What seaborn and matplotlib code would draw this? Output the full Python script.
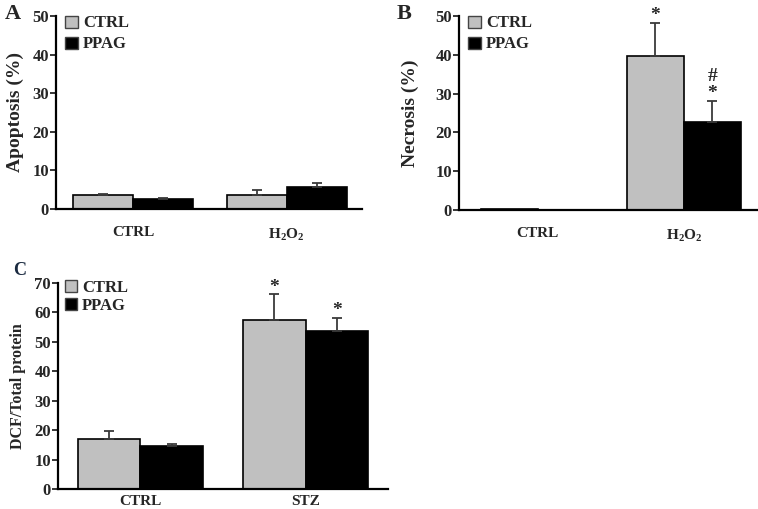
import matplotlib
matplotlib.use("Agg")
import matplotlib.pyplot as plt
import seaborn as sns
import pandas as pd
from matplotlib.patches import Patch
from matplotlib.container import BarContainer

sns.set_style("white")
plt.rcParams['font.family'] = ['Liberation Serif', 'DejaVu Serif']
plt.rcParams['font.weight'] = 'bold'
plt.rcParams['mathtext.fontset'] = 'custom'
plt.rcParams['mathtext.rm'] = 'Liberation Serif:bold'
plt.rcParams['mathtext.bf'] = 'Liberation Serif:bold'

groups = ["CTRL", "PPAG"]
colors = {"CTRL": "#c0c0c0", "PPAG": "#000000"}

# Panel A: Apoptosis
a_cats = ["CTRL", "H$_\\mathbf{2}$O$_\\mathbf{2}$"]
a_ctrl = [3.5, 3.5]
a_ppag = [2.6, 5.8]
a_ctrl_err = [0.5, 1.3]
a_ppag_err = [0.2, 1.0]

# Panel B: Necrosis
b_cats = ["CTRL", "H$_\\mathbf{2}$O$_\\mathbf{2}$"]
b_ctrl = [0.3, 39.6]
b_ppag = [0.0, 22.6]
b_ctrl_err = [0.0, 8.7]
b_ppag_err = [0.0, 5.6]
b_ctrl_marks = ["", "*"]
b_ppag_marks = ["", "#\n*"]

# Panel C: DCF/Total protein
c_cats = ["CTRL", "STZ"]
c_ctrl = [16.9, 57.5]
c_ppag = [14.5, 53.7]
c_ctrl_err = [2.7, 8.7]
c_ppag_err = [0.9, 4.4]
c_ctrl_marks = ["", "*"]
c_ppag_marks = ["", "*"]

fig = plt.figure(figsize=(7.58, 5.09), dpi=100)
axA = fig.add_axes([0.0739, 0.5894, 0.4037, 0.3792])
axB = fig.add_axes([0.6055, 0.5874, 0.3932, 0.3811])
axC = fig.add_axes([0.0765, 0.0393, 0.4354, 0.4047])


def panel(ax, cats, ctrl, ppag, ctrl_err, ppag_err, ymax, ystep, ylabel,
          xlim, width, marks=None, ylabel_size=14, legend_font=12,
          tick_size=12, xtick_size=11, xpad=9, mark_size=14,
          leg_anchor=(0.02, 1.02), leg_spacing=0.3, labelpad=6):
    df = pd.DataFrame({
        "cat": cats * 2,
        "grp": ["CTRL"] * len(cats) + ["PPAG"] * len(cats),
        "val": list(ctrl) + list(ppag),
    })
    sns.barplot(data=df, x="cat", y="val", hue="grp", order=cats,
                hue_order=groups, palette=colors, width=width,
                edgecolor="black", linewidth=1.2, errorbar=None,
                ax=ax, legend=False, saturation=1)
    errs = [ctrl_err, ppag_err]
    bar_conts = [c for c in ax.containers if isinstance(c, BarContainer)]
    for ci, cont in enumerate(bar_conts):
        for bi, p in enumerate(list(cont.patches)):
            xc = p.get_x() + p.get_width() / 2
            h = p.get_height()
            e = errs[ci][bi]
            if e > 0:
                ax.errorbar(xc, h, yerr=[[0], [e]], fmt="none",
                            ecolor="#3a3a3a", elinewidth=1.3, capsize=3.5,
                            capthick=1.3, zorder=1)
            if marks is not None:
                m = marks[ci][bi]
                if m:
                    ax.annotate(m, (xc, h + e), xytext=(0, -1),
                                textcoords="offset points", ha="center",
                                va="bottom", fontsize=mark_size,
                                fontweight="bold", linespacing=1.0)
    ax.set_ylim(0, ymax)
    ax.set_yticks(range(0, ymax + 1, ystep))
    ax.set_xlim(*xlim)
    ax.set_xlabel("")
    ax.set_ylabel(ylabel, fontsize=ylabel_size, fontweight="bold",
                  labelpad=labelpad)
    sns.despine(ax=ax)
    for s in ["left", "bottom"]:
        ax.spines[s].set_linewidth(1.6)
        ax.spines[s].set_color("black")
    ax.tick_params(axis="y", left=True, length=4.5, width=1.3, direction="out",
                   labelsize=tick_size, pad=0.5)
    ax.tick_params(axis="x", bottom=False, labelsize=xtick_size, pad=xpad)
    for t in ax.get_yticklabels() + ax.get_xticklabels():
        t.set_fontweight("bold")
    handles = [Patch(facecolor=colors[g], edgecolor="#444444", linewidth=1,
                     label=g) for g in groups]
    ax.legend(handles=handles, loc="upper left", bbox_to_anchor=leg_anchor,
              borderaxespad=0, borderpad=0.2,
              frameon=False, handlelength=0.75, handleheight=0.75,
              handletextpad=0.3, labelspacing=leg_spacing,
              prop={"family": "Liberation Serif", "weight": "bold",
                    "size": legend_font})


panel(axA, a_cats, a_ctrl, a_ppag, a_ctrl_err, a_ppag_err, 50, 10,
      "Apoptosis (%)", (-0.5, 1.49), 0.78, labelpad=6)
panel(axB, b_cats, b_ctrl, b_ppag, b_ctrl_err, b_ppag_err, 50, 10,
      "Necrosis (%)", (-0.54, 1.5), 0.78,
      marks=[b_ctrl_marks, b_ppag_marks], labelpad=12)
panel(axC, c_cats, c_ctrl, c_ppag, c_ctrl_err, c_ppag_err, 70, 10,
      "DCF/Total protein", (-0.5, 1.5), 0.76,
      marks=[c_ctrl_marks, c_ppag_marks], ylabel_size=11.5,
      xtick_size=11, xpad=1, leg_anchor=(0.01, 1.03), leg_spacing=0.1,
      labelpad=6)

fig.text(0.006, 0.992, "A", fontsize=16, fontweight="bold", va="top", ha="left")
fig.text(0.523, 0.992, "B", fontsize=16, fontweight="bold", va="top", ha="left")
fig.text(0.017, 0.485, "C", fontsize=13, fontweight="bold", va="top",
         ha="left", color="#1a2a40")

fig.savefig("out.png", dpi=100)
